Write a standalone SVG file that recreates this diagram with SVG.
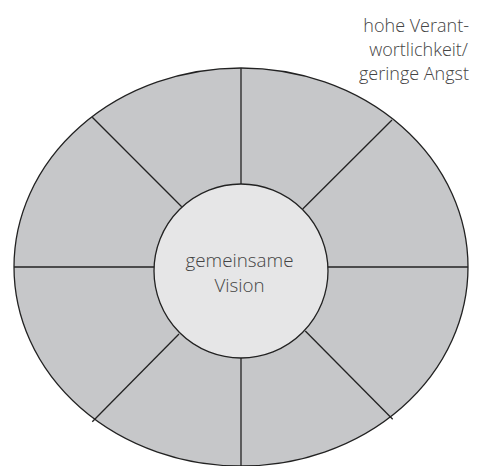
<svg xmlns="http://www.w3.org/2000/svg" width="477" height="466" viewBox="0 0 477 466">
<style>
.seg{fill:#c6c7c9;stroke:#222;stroke-width:1.3}
.ln{stroke:#222;stroke-width:1.3;fill:none}
.core{fill:#e6e6e7;stroke:#222;stroke-width:1.3}
.t{font-family:"Open Sans","Liberation Sans",sans-serif;font-weight:300;font-size:18px;fill:#444}
.c{font-size:18.8px}
</style>
<rect width="477" height="466" fill="#fff"/>
<g id="outer"><ellipse class="seg" cx="241" cy="267" rx="227" ry="199"/></g>
<g id="connectors">
<line class="ln" x1="241" y1="68" x2="241" y2="185"/>
<line class="ln" x1="241" y1="357" x2="241" y2="466"/>
<line class="ln" x1="14" y1="267" x2="155" y2="267"/>
<line class="ln" x1="327" y1="267" x2="468" y2="267"/>
<line class="ln" x1="92.3" y1="117.3" x2="181.7" y2="206.7"/>
<line class="ln" x1="392" y1="120" x2="302.7" y2="209"/>
<line class="ln" x1="92.3" y1="421.7" x2="179" y2="334"/>
<line class="ln" x1="305.3" y1="331" x2="392.7" y2="419.3"/>
</g>
<g id="vision">
<circle class="core" cx="241" cy="271" r="87"/>
<text class="t c" x="239.5" y="266.5" text-anchor="middle">gemeinsame</text>
<text class="t c" x="239.5" y="292" text-anchor="middle">Vision</text>
</g>
<g id="label">
<text class="t" text-anchor="end"><tspan x="469" y="31.5">hohe Verant-</tspan><tspan x="468" y="55.5">wortlichkeit/</tspan><tspan x="469" y="79.5">geringe Angst</tspan></text>
</g>
</svg>
